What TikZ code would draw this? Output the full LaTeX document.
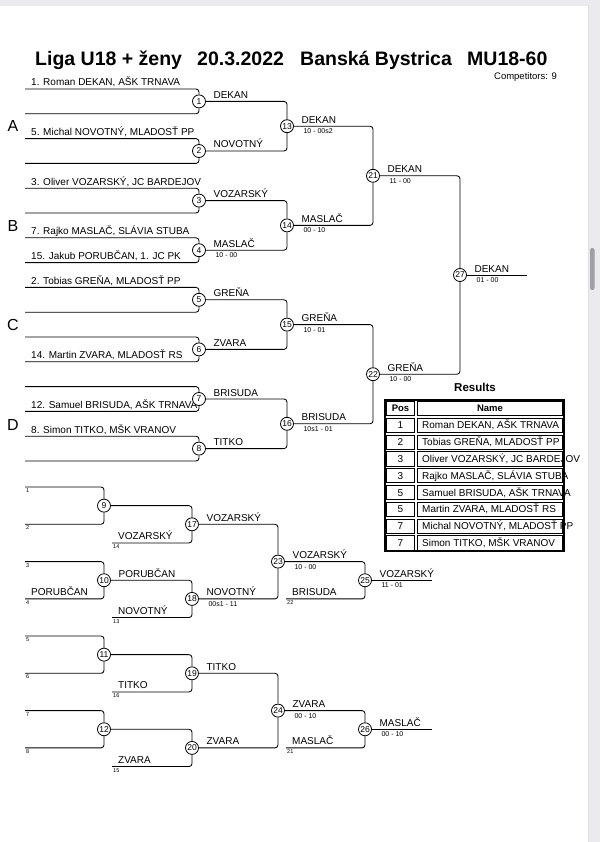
\documentclass[tikz,border=0pt]{standalone}
\usepackage{fontspec}
\setmainfont{Liberation Sans}
\usepackage{tikz}

\definecolor{viewergray}{HTML}{EBEBEF}
\definecolor{thumbgray}{HTML}{A0A0A4}

\tikzset{
  match/.style={circle, draw, fill=white, line width=0.8pt, minimum size=13pt,
    inner sep=0pt, font=\fontsize{8.5}{9}\selectfont},
  bracket/.style={line width=0.85pt, rounded corners=3pt},
  entry/.style={anchor=base west, inner sep=0pt, font=\fontsize{10}{12}\selectfont},
  score/.style={anchor=north west, inner sep=0pt, font=\fontsize{7}{8}\selectfont},
  seed/.style={anchor=north west, inner sep=0pt, font=\fontsize{5.5}{6}\selectfont},
  pool/.style={inner sep=0pt, font=\fontsize{16}{18}\selectfont},
  headline/.style={anchor=base west, inner sep=0pt, font=\bfseries\fontsize{19.5}{22}\selectfont},
  cell/.style={line width=0.7pt},
  celltext/.style={anchor=base, inner sep=0pt, font=\fontsize{10}{12}\selectfont},
}

\begin{document}
\begin{tikzpicture}[x=1pt, y=-1pt]
    \useasboundingbox (0,0) rectangle (600,842);
    % Viewer window and page
    \fill[viewergray] (0,0) rectangle (600,842);
    \fill[white] (0,6) rectangle (588,842);
    \draw[black!12] (588,6) -- (588,842);
    \fill[thumbgray, rounded corners=2pt] (590,248) rectangle (594.5,290);

    % Header
    \node (title) [headline] at (35,66) {Liga U18 + ženy};
    \node (date) [headline] at (197,66) {20.3.2022};
    \node (town) [headline] at (300,66) {Banská Bystrica};
    \node (weight) [headline] at (467,66) {MU18-60};
    \node (count) [anchor=base east, inner sep=0pt, font=\fontsize{9.5}{11}\selectfont]
        at (557,80) {Competitors: 9};

    % Main bracket: competitor lines
    \foreach \i in {0,...,15}
        \coordinate (p\i) at (25, {89+24.8*\i});
    \node (n0) [entry] at ([xshift=6pt, yshift=3pt]p0) {1. Roman DEKAN, AŠK TRNAVA};
    \node (n2) [entry] at ([xshift=6pt, yshift=3pt]p2) {5. Michal NOVOTNÝ, MLADOSŤ PP};
    \node (n4) [entry] at ([xshift=6pt, yshift=3pt]p4) {3. Oliver VOZARSKÝ, JC BARDEJOV};
    \node (n6) [entry] at ([xshift=6pt, yshift=3pt]p6) {7. Rajko MASLAČ, SLÁVIA STUBA};
    \node (n7) [entry] at ([xshift=6pt, yshift=3pt]p7) {15. Jakub PORUBČAN, 1. JC PK};
    \node (n8) [entry] at ([xshift=6pt, yshift=3pt]p8) {2. Tobias GREŇA, MLADOSŤ PP};
    \node (n11) [entry] at ([xshift=6pt, yshift=3pt]p11) {14. Martin ZVARA, MLADOSŤ RS};
    \node (n13) [entry] at ([xshift=6pt, yshift=3pt]p13) {12. Samuel BRISUDA, AŠK TRNAVA};
    \node (n14) [entry] at ([xshift=6pt, yshift=3pt]p14) {8. Simon TITKO, MŠK VRANOV};
    % Pools
    \node (poolA) [pool] at (13,126) {A};
    \node (poolB) [pool] at (13,225.5) {B};
    \node (poolC) [pool] at (13,325) {C};
    \node (poolD) [pool] at (13,424.5) {D};

    % Main bracket: matches
    \foreach \k [evaluate=\k as \n using int(\k+1)] in {0,...,7}
        \node (m\n) [match] at (199, {89+24.8*(2*\k+0.5)}) {\n};
    \foreach \k [evaluate=\k as \n using int(\k+13)] in {0,...,3}
        \node (m\n) [match] at (287, {89+24.8*(4*\k+1.5)}) {\n};
    \node (m21) [match] at (373, {89+24.8*3.5}) {21};
    \node (m22) [match] at (373, {89+24.8*11.5}) {22};
    \node (m27) [match] at (460, {89+24.8*7.5}) {27};
    \coordinate (gold) at (527, {89+24.8*7.5});

    % Main bracket: lines
    \foreach \k [evaluate=\k as \n using int(\k+1), evaluate=\k as \a using int(2*\k),
                 evaluate=\k as \b using int(2*\k+1)] in {0,...,7} {
        \draw[bracket] (p\a) -| (m\n);
        \draw[bracket] (p\b) -| (m\n);
    }
    \foreach \k [evaluate=\k as \n using int(\k+13), evaluate=\k as \a using int(2*\k+1),
                 evaluate=\k as \b using int(2*\k+2)] in {0,...,3} {
        \draw[bracket] (m\a) -| (m\n);
        \draw[bracket] (m\b) -| (m\n);
    }
    \draw[bracket] (m13) -| (m21);
    \draw[bracket] (m14) -| (m21);
    \draw[bracket] (m15) -| (m22);
    \draw[bracket] (m16) -| (m22);
    \draw[bracket] (m21) -| (m27);
    \draw[bracket] (m22) -| (m27);
    \draw[bracket] (m27) -- (gold);

    % Main bracket: winners and scores
    \foreach \n/\t in {1/DEKAN, 2/NOVOTNÝ, 3/VOZARSKÝ, 4/MASLAČ, 5/GREŇA, 6/ZVARA,
                       7/BRISUDA, 8/TITKO, 13/DEKAN, 14/MASLAČ, 15/GREŇA, 16/BRISUDA,
                       21/DEKAN, 22/GREŇA, 27/DEKAN}
        \node (w\n) [entry] at ([xshift=7.5pt, yshift=3pt]m\n.east) {\t};
    \foreach \n/\t in {4/10 - 00, 13/10 - 00s2, 14/00 - 10, 15/10 - 01, 16/10s1 - 01,
                       21/11 - 00, 22/10 - 00, 27/01 - 00}
        \node (s\n) [score] at ([xshift=9.5pt, yshift=-2.5pt]m\n.east) {\t};

    % Repechage
    \foreach \y/\ma/\mb/\mc/\md/\me/\mf in {487/9/10/17/18/23/25, 636/11/12/19/20/24/26} {
        \coordinate (t\ma) at (25, \y);
        \coordinate (u\ma) at (25, {\y+2*18.65});
        \coordinate (t\mb) at (25, {\y+4*18.65});
        \coordinate (u\mb) at (25, {\y+6*18.65});
        \coordinate (b\mc) at (112, {\y+3*18.65});
        \coordinate (b\md) at (112, {\y+7*18.65});
        \coordinate (b\mf) at (286, {\y+6*18.65});
        \coordinate (e\mf) at (432, {\y+5*18.65});
        \node (m\ma) [match] at (104, {\y+18.65}) {\ma};
        \node (m\mb) [match] at (104, {\y+5*18.65}) {\mb};
        \node (m\mc) [match] at (192, {\y+2*18.65}) {\mc};
        \node (m\md) [match] at (192, {\y+6*18.65}) {\md};
        \node (m\me) [match] at (278, {\y+4*18.65}) {\me};
        \node (m\mf) [match] at (365, {\y+5*18.65}) {\mf};
        \draw[bracket] (t\ma) -| (m\ma);
        \draw[bracket] (u\ma) -| (m\ma);
        \draw[bracket] (t\mb) -| (m\mb);
        \draw[bracket] (u\mb) -| (m\mb);
        \draw[bracket] (m\ma) -| (m\mc);
        \draw[bracket] (b\mc) -| (m\mc);
        \draw[bracket] (m\mb) -| (m\md);
        \draw[bracket] (b\md) -| (m\md);
        \draw[bracket] (m\mc) -| (m\me);
        \draw[bracket] (m\md) -| (m\me);
        \draw[bracket] (m\me) -| (m\mf);
        \draw[bracket] (b\mf) -| (m\mf);
        \draw[bracket] (m\mf) -- (e\mf);
    }
    % Seed numbers
    \node (seed1) [seed] at ([xshift=1pt, yshift=-1.5pt]t9) {1};
    \node (seed2) [seed] at ([xshift=1pt, yshift=-1.5pt]u9) {2};
    \node (seed3) [seed] at ([xshift=1pt, yshift=-1.5pt]t10) {3};
    \node (seed4) [seed] at ([xshift=1pt, yshift=-1.5pt]u10) {4};
    \node (seed5) [seed] at ([xshift=1pt, yshift=-1.5pt]t11) {5};
    \node (seed6) [seed] at ([xshift=1pt, yshift=-1.5pt]u11) {6};
    \node (seed7) [seed] at ([xshift=1pt, yshift=-1.5pt]t12) {7};
    \node (seed8) [seed] at ([xshift=1pt, yshift=-1.5pt]u12) {8};
    \node (seed14) [seed] at ([xshift=1pt, yshift=-1.5pt]b17) {14};
    \node (seed13) [seed] at ([xshift=1pt, yshift=-1.5pt]b18) {13};
    \node (seed22) [seed] at ([xshift=1pt, yshift=-1.5pt]b25) {22};
    \node (seed16) [seed] at ([xshift=1pt, yshift=-1.5pt]b19) {16};
    \node (seed15) [seed] at ([xshift=1pt, yshift=-1.5pt]b20) {15};
    \node (seed21) [seed] at ([xshift=1pt, yshift=-1.5pt]b26) {21};
    % Losers coming in
    \node (l10) [entry] at ([xshift=6pt, yshift=3pt]u10) {PORUBČAN};
    \node (l17) [entry] at ([xshift=6pt, yshift=3pt]b17) {VOZARSKÝ};
    \node (l18) [entry] at ([xshift=6pt, yshift=3pt]b18) {NOVOTNÝ};
    \node (l25) [entry] at ([xshift=6pt, yshift=3pt]b25) {BRISUDA};
    \node (l19) [entry] at ([xshift=6pt, yshift=3pt]b19) {TITKO};
    \node (l20) [entry] at ([xshift=6pt, yshift=3pt]b20) {ZVARA};
    \node (l26) [entry] at ([xshift=6pt, yshift=3pt]b26) {MASLAČ};
    % Winners and scores
    \foreach \n/\t in {10/PORUBČAN, 17/VOZARSKÝ, 18/NOVOTNÝ, 23/VOZARSKÝ, 25/VOZARSKÝ,
                       19/TITKO, 20/ZVARA, 24/ZVARA, 26/MASLAČ}
        \node (w\n) [entry] at ([xshift=7.5pt, yshift=3pt]m\n.east) {\t};
    \foreach \n/\t in {18/00s1 - 11, 23/10 - 00, 25/11 - 01, 24/00 - 10, 26/00 - 10}
        \node (s\n) [score] at ([xshift=9.5pt, yshift=-2.5pt]m\n.east) {\t};

    % Results table
    \node (results) [inner sep=0pt, font=\bfseries\fontsize{11.5}{13}\selectfont] at (475,387) {Results};
    \draw[line width=1.2pt] (385,400) rectangle (564,551);
    \foreach \r in {0,...,8} {
        \draw[cell] (386.3, {400+16.8*\r+1.3}) rectangle (414.7, {400+16.8*(\r+1)-1.3});
        \draw[cell] (417.3, {400+16.8*\r+1.3}) rectangle (562.7, {400+16.8*(\r+1)-1.3});
    }
    \node (hpos) [celltext, font=\bfseries\fontsize{9.5}{11}\selectfont] at (400.5, {400+16.8*0.5+3.4}) {Pos};
    \node (hname) [celltext, font=\bfseries\fontsize{9.5}{11}\selectfont] at (490, {400+16.8*0.5+3.4}) {Name};
    \foreach \r/\p/\t in {1/1/{Roman DEKAN, AŠK TRNAVA}, 2/2/{Tobias GREŇA, MLADOSŤ PP},
                          3/3/{Oliver VOZARSKÝ, JC BARDEJOV}, 4/3/{Rajko MASLAČ, SLÁVIA STUBA},
                          5/5/{Samuel BRISUDA, AŠK TRNAVA}, 6/5/{Martin ZVARA, MLADOSŤ RS},
                          7/7/{Michal NOVOTNÝ, MLADOSŤ PP}, 8/7/{Simon TITKO, MŠK VRANOV}} {
        \node (pos\r) [celltext] at (400.5, {400+16.8*(\r+0.5)+3.6}) {\p};
        \node (name\r) [celltext, anchor=base west] at (422, {400+16.8*(\r+0.5)+3.6}) {\t};
    }
\end{tikzpicture}
\end{document}
